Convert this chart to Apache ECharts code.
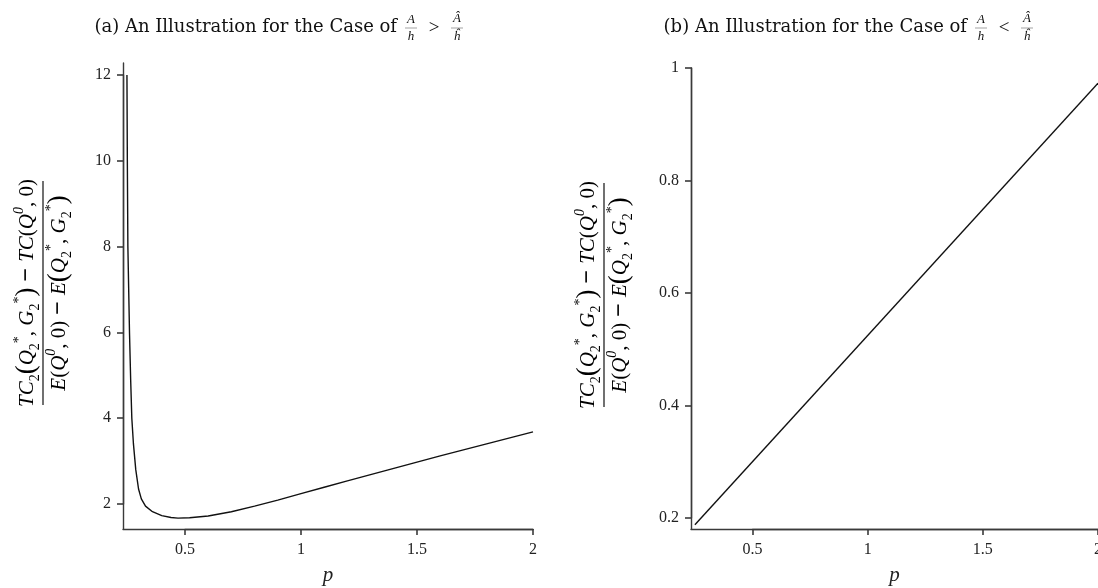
<!DOCTYPE html>
<html>
<head>
<meta charset="utf-8">
<script src="https://cdn.jsdelivr.net/npm/echarts@6/dist/echarts.min.js"></script>
<style>
html,body{margin:0;padding:0;background:#fff;}
#c{width:1098px;height:588px;}
</style>
</head>
<body>
<div id="c"></div>
<script>
// ---- data ----
const xTicks = [0.5, 1, 1.5, 2];
const yTicksA = [2, 4, 6, 8, 10, 12];
const yTicksB = [0.2, 0.4, 0.6, 0.8, 1];
const pA = [0.2500, 0.2517, 0.2540, 0.2575, 0.2610, 0.2660, 0.2710, 0.2780, 0.2880, 0.3000, 0.3120, 0.3300, 0.3600, 0.4000, 0.4400, 0.4700, 0.5200, 0.6000, 0.7000, 0.8000, 0.9000, 1.0000, 1.1000, 1.2000, 1.4000, 1.6000, 1.8000, 2.0000];
const valuesA = [12.0, 10.0, 8.0, 7.0, 6.0, 4.9, 4.0, 3.4, 2.8, 2.35, 2.12, 1.95, 1.82, 1.73, 1.685, 1.67, 1.68, 1.72, 1.82, 1.95, 2.09, 2.24, 2.39, 2.54, 2.83, 3.12, 3.40, 3.68];
const pB = [0.25, 2.0];
const valuesB = [0.188, 0.973];
const titleA = '(a) An Illustration for the Case of';
const titleB = '(b) An Illustration for the Case of';

const SERIF = '"Liberation Serif", serif';
const AXIS_COLOR = '#3a3a3a';
const chart = echarts.init(document.getElementById('c'), null, {renderer: 'canvas'});

// panel geometry (layout) and axis ranges
const panels = [
  {left: 123, top: 63, width: 410, height: 466, xMin: 0.233, xMax: 2, yMin: 1.417, yMax: 12.28, xT: xTicks, yT: yTicksA, xStep: 0.5, yStep: 2},
  {left: 691, top: 68, width: 407, height: 461, xMin: 0.233, xMax: 2, yMin: 0.1804, yMax: 1, xT: xTicks, yT: yTicksB, xStep: 0.5, yStep: 0.2}
];

const grids = [], xAxes = [], yAxes = [];
panels.forEach((P) => {
  // main grid: axis lines only
  grids.push({left: P.left, top: P.top, width: P.width, height: P.height, outerBoundsMode: 'none'});
  xAxes.push({
    type: 'value', gridIndex: grids.length - 1, min: P.xMin, max: P.xMax,
    name: 'p', nameLocation: 'middle', nameGap: 36,
    nameTextStyle: {fontFamily: SERIF, fontStyle: 'italic', fontSize: 21, color: '#222'},
    axisLine: {show: true, onZero: false, lineStyle: {color: AXIS_COLOR, width: 1.4}},
    axisTick: {show: false}, axisLabel: {show: false}, splitLine: {show: false}
  });
  yAxes.push({
    type: 'value', gridIndex: grids.length - 1, min: P.yMin, max: P.yMax,
    axisLine: {show: true, onZero: false, lineStyle: {color: AXIS_COLOR, width: 1.4}},
    axisTick: {show: false}, axisLabel: {show: false}, splitLine: {show: false}
  });
  // tick grid: same scale, spanning exactly first..last tick
  const x0 = P.xT[0], x1 = P.xT[P.xT.length - 1];
  const y0 = P.yT[0], y1 = P.yT[P.yT.length - 1];
  const sx = P.width / (P.xMax - P.xMin), sy = P.height / (P.yMax - P.yMin);
  const tl = P.left + (x0 - P.xMin) * sx, tw = (x1 - x0) * sx;
  const tt = P.top + (P.yMax - y1) * sy, th = (y1 - y0) * sy;
  grids.push({left: tl, top: tt, width: tw, height: th, outerBoundsMode: 'none'});
  const gi = grids.length - 1;
  xAxes.push({
    type: 'value', gridIndex: gi, min: x0, max: x1, interval: P.xStep,
    offset: (P.top + P.height) - (tt + th),
    axisLine: {show: true, onZero: false, lineStyle: {color: AXIS_COLOR, width: 1.4}},
    axisTick: {show: true, length: 6, lineStyle: {color: AXIS_COLOR, width: 1.6}},
    axisLabel: {margin: 13, fontFamily: SERIF, fontSize: 16, color: '#222'},
    splitLine: {show: false}
  });
  yAxes.push({
    type: 'value', gridIndex: gi, min: y0, max: y1, interval: P.yStep,
    offset: tl - P.left,
    axisLine: {show: true, onZero: false, lineStyle: {color: AXIS_COLOR, width: 1.4}},
    axisTick: {show: true, length: 6, lineStyle: {color: AXIS_COLOR, width: 1.6}},
    axisLabel: {margin: 12, fontFamily: SERIF, fontSize: 16, color: '#222'},
    splitLine: {show: false}
  });
});

const rich = {
  i: {fontFamily: SERIF, fontStyle: 'italic', fontSize: 21, lineHeight: 30, color: '#111'},
  n: {fontFamily: SERIF, fontSize: 21, lineHeight: 30, color: '#111'},
  b: {fontFamily: SERIF, fontSize: 27, lineHeight: 30, color: '#111'},
  m: {fontFamily: SERIF, fontSize: 24, fontWeight: 'bold', lineHeight: 30, color: '#111'},
  s: {fontFamily: SERIF, fontSize: 14, lineHeight: 12, verticalAlign: 'bottom', color: '#111'},
  p: {fontFamily: SERIF, fontSize: 14, lineHeight: 14, verticalAlign: 'top', color: '#111'},
  z: {fontFamily: SERIF, fontStyle: 'italic', fontSize: 14, lineHeight: 14, verticalAlign: 'top', color: '#111'}
};
const numText = '{i|TC}{s|2}{b|(}{i|Q}{s|2}{p|*}{n|, }{i|G}{s|2}{p|*}{b|)}{m| − }{i|TC}{n|(}{i|Q}{z|0}{n|, 0)}';
const denText = '{i|E}{n|(}{i|Q}{z|0}{n|, 0)}{m| − }{i|E}{b|(}{i|Q}{s|2}{p|*}{n|, }{i|G}{s|2}{p|*}{b|)}';

function fracLabel(x, y, half) {
  return {
    type: 'group', x: x, y: y, rotation: Math.PI / 2,
    children: [
      {type: 'text', x: 0, y: -1, style: {text: numText, rich: rich, align: 'center', verticalAlign: 'bottom'}},
      {type: 'line', shape: {x1: -half, y1: 0, x2: half, y2: 0}, style: {stroke: '#111', lineWidth: 1.2}},
      {type: 'text', x: 0, y: 1, style: {text: denText, rich: rich, align: 'center', verticalAlign: 'top'}}
    ]
  };
}

function titleGroup(endX, titleStr, rel) {
  const font = '18px "DejaVu Serif", serif';
  const sfont = 'italic 13px "Liberation Serif", serif';
  const aX = endX + 14, rX = endX + 37, bX = endX + 60;
  return [
    {type: 'text', x: endX, y: 27, style: {text: titleStr, font: font, fill: '#111', align: 'right', verticalAlign: 'middle'}},
    {type: 'text', x: aX, y: 20, style: {text: 'A', font: sfont, fill: '#111', align: 'center', verticalAlign: 'middle'}},
    {type: 'line', shape: {x1: aX - 6, y1: 28, x2: aX + 6, y2: 28}, style: {stroke: '#666', lineWidth: 0.6}},
    {type: 'text', x: aX, y: 37, style: {text: 'h', font: sfont, fill: '#111', align: 'center', verticalAlign: 'middle'}},
    {type: 'text', x: rX, y: 28, style: {text: rel, font: '19px "Liberation Serif", serif', fill: '#111', align: 'center', verticalAlign: 'middle'}},
    {type: 'text', x: bX, y: 19, style: {text: 'Â', font: sfont, fill: '#111', align: 'center', verticalAlign: 'middle'}},
    {type: 'line', shape: {x1: bX - 6, y1: 28, x2: bX + 6, y2: 28}, style: {stroke: '#666', lineWidth: 0.6}},
    {type: 'text', x: bX, y: 37, style: {text: 'ĥ', font: sfont, fill: '#111', align: 'center', verticalAlign: 'middle'}}
  ];
}

const option = {
  backgroundColor: '#fff',
  animation: false,
  grid: grids,
  xAxis: xAxes,
  yAxis: yAxes,
  series: [
    {type: 'line', xAxisIndex: 0, yAxisIndex: 0, showSymbol: false,
     lineStyle: {color: '#111', width: 1.4}, data: pA.map((p, i) => [p, valuesA[i]])},
    {type: 'line', xAxisIndex: 2, yAxisIndex: 2, showSymbol: false,
     lineStyle: {color: '#111', width: 1.4}, data: pB.map((p, i) => [p, valuesB[i]])}
  ],
  graphic: [
    fracLabel(43, 293, 112),
    fracLabel(604, 295, 112)
  ].concat(titleGroup(397, titleA, '>')).concat(titleGroup(967, titleB, '<'))
};
chart.setOption(option);
</script>
</body>
</html>
